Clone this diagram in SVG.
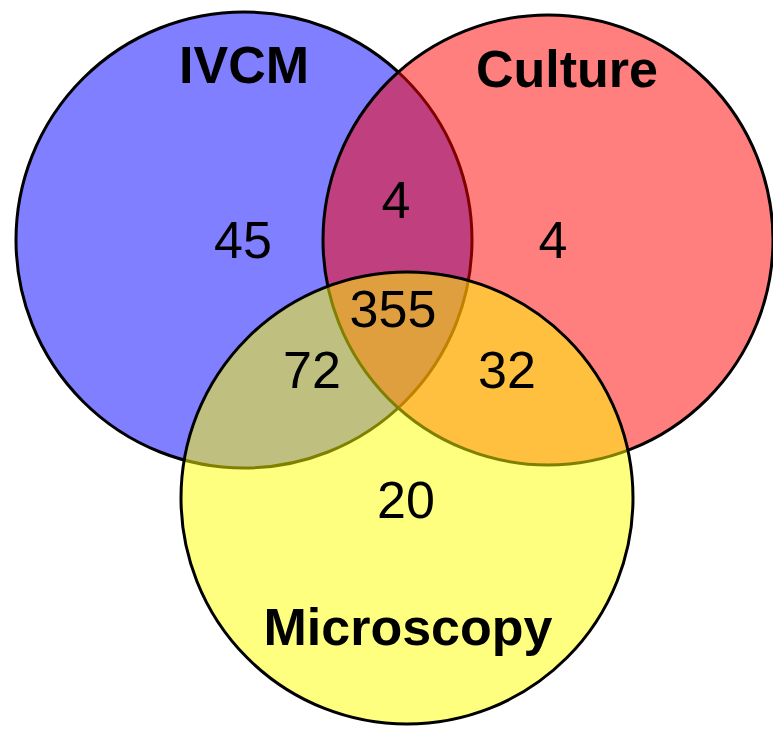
<svg xmlns="http://www.w3.org/2000/svg" width="773" height="729" viewBox="0 0 773 729">
<style>
.set{fill-opacity:0.5;stroke:#000;stroke-width:3}
.title{font-family:"Liberation Sans",Arial,sans-serif;font-weight:bold;font-size:52px;text-anchor:middle;fill:#000}
.num{font-family:"Liberation Sans",Arial,sans-serif;font-size:52px;text-anchor:middle;fill:#000}
</style>
<rect width="773" height="729" fill="#fff"/>
<g id="ivcm">
<circle class="set" cx="244" cy="240" r="228" fill="#0000ff"/>
<text class="title" x="244" y="83">IVCM</text>
</g>
<g id="culture">
<circle class="set" cx="548" cy="240" r="225" fill="#ff0000"/>
<text class="title" x="567" y="87">Culture</text>
</g>
<g id="microscopy">
<circle class="set" cx="407" cy="498" r="226" fill="#ffff00"/>
<text class="title" x="408" y="645">Microscopy</text>
</g>
<g id="counts">
<text class="num" x="243" y="258">45</text>
<text class="num" x="396" y="218">4</text>
<text class="num" x="553" y="258">4</text>
<text class="num" x="393" y="327">355</text>
<text class="num" x="312" y="388">72</text>
<text class="num" x="507" y="388">32</text>
<text class="num" x="406" y="518">20</text>
</g>
</svg>
